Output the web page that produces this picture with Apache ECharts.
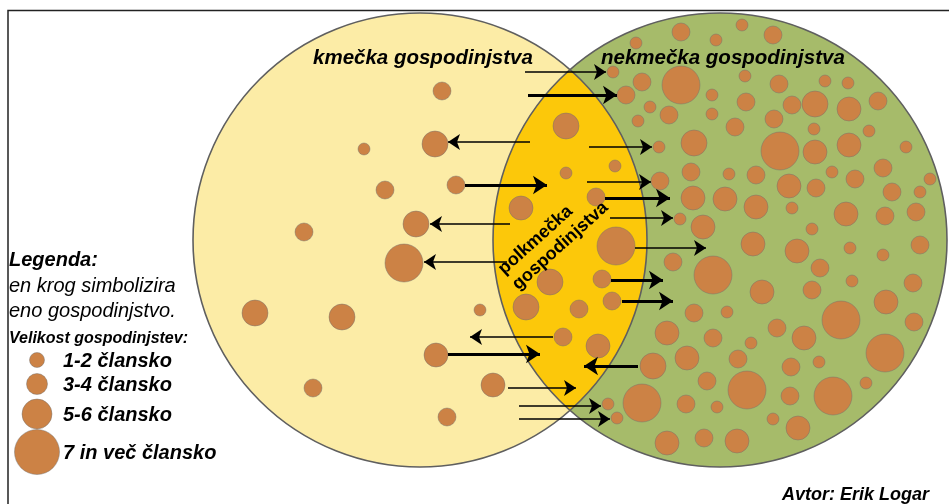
<!DOCTYPE html>
<html><head><meta charset="utf-8">
<script src="https://cdn.jsdelivr.net/npm/echarts@6/dist/echarts.min.js"></script>
<style>html,body{margin:0;padding:0;background:#fff}#c{width:949px;height:504px}</style>
</head><body><div id="c"></div>
<script>
// Venn circles: [cx, cy, radius]
const vennCircles = [[420, 240, 227], [720, 240, 227]];
const vennFills = ['#FCECA6', '#A6BB6A'];
const lensFill = '#FCC80A';

// households: [x, y, diameter]
const farmDots = [
  [442,91,18],[435,144,26],[364,149,12],[456,185,18],[385,190,18],[416,224,26],
  [304,232,18],[404,263,38],[255,313,26],[342,317,26],[480,310,12],[436,355,24],
  [313,388,18],[493,385,24],[447,417,18]
];
const mixedDots = [
  [566,126,26],[566,173,12],[615,166,12],[521,208,24],[596,197,18],[616,246,38],
  [550,282,26],[602,279,18],[612,301,18],[526,307,26],[579,309,18],[563,337,18],
  [598,346,24]
];
const nonFarmDots = [
  [742,25,12],[681,32,18],[716,40,12],[773,35,18],[636,43,12],[613,72,12],[642,82,18],
  [681,85,38],[745,76,12],[779,84,18],[825,81,12],[848,83,12],[626,95,18],[712,95,12],
  [650,107,12],[669,115,18],[638,121,12],[712,114,12],[746,102,18],[774,119,18],
  [792,105,18],[815,104,26],[849,109,24],[878,101,18],[735,127,18],[814,129,12],[869,131,12],
  [659,147,12],[694,143,26],[780,151,38],[691,172,18],[729,174,12],[756,175,18],[660,181,18],
  [789,186,24],[693,198,24],[725,199,24],[756,207,24],[792,208,12],[680,219,12],[703,227,24],
  [753,244,24],[797,251,24],[673,262,18],[812,229,12],
  [815,152,24],[849,145,24],[906,147,12],[832,172,12],[855,179,18],[883,168,18],[930,179,12],
  [816,188,18],[892,192,18],[920,192,12],[846,214,24],[885,216,18],[916,212,18],[850,248,12],
  [883,255,12],[920,245,18],[820,268,18],[812,290,18],[852,281,12],[913,283,18],[886,302,24],
  [841,320,38],[914,322,18],[804,338,24],[885,353,38],[819,362,12],
  [713,275,38],[762,292,24],[694,313,18],[727,312,12],[667,333,24],[713,338,18],[751,343,12],
  [777,328,18],[687,358,24],[738,359,18],[653,366,26],[791,367,18],[707,381,18],[747,390,38],
  [642,403,38],[608,404,12],[617,418,12],[686,404,18],[717,407,12],[790,396,18],[833,396,38],
  [866,383,12],[773,419,12],[798,428,24],[667,443,24],[704,438,18],[737,441,24]
];
const legendDots = [[37,360,15],[37,384,21],[37,414,30],[37,452,45]];
const legendLabels = ['1-2 člansko', '3-4 člansko', '5-6 člansko', '7 in več člansko'];

// arrows: [[tailX, tailY], [tipX, tipY]]
const arrowsThin = [
  [[525,72],[606,72]], [[530,142],[448,142]], [[510,224],[430,224]], [[507,262],[424,262]],
  [[589,147],[652,147]], [[587,182],[651,182]], [[610,218],[673,218]], [[635,248],[706,248]],
  [[553,337],[470,337]], [[508,388],[576,388]], [[519,406],[601,406]], [[519,419],[610,419]]
];
const arrowsThick = [
  [[528,95],[617,95]], [[465,185],[547,185]], [[605,198],[670,198]], [[611,280],[663,280]],
  [[622,301],[673,301]], [[448,354],[540,354]], [[638,366],[584,366]]
];

const FONT = '"Liberation Sans", Arial, sans-serif';
const dotStyle = { color: '#CC8245', borderColor: 'rgba(110,110,110,0.55)', borderWidth: 0.8, opacity: 1 };

const chart = echarts.init(document.getElementById('c'), null, { renderer: 'canvas' });

function circleFill(params, api) {
  const c = api.coord([api.value(0), api.value(1)]);
  const r = api.size([api.value(2), 0])[0];
  return { type: 'circle', shape: { cx: c[0], cy: c[1], r: r },
           style: { fill: vennFills[params.dataIndex], stroke: null } };
}
function circleLine(params, api) {
  const c = api.coord([api.value(0), api.value(1)]);
  const r = api.size([api.value(2), 0])[0];
  return { type: 'circle', shape: { cx: c[0], cy: c[1], r: r },
           style: { fill: null, stroke: '#5f5f5f', lineWidth: 1.6 } };
}
function lensItem(params, api) {
  const a = vennCircles[0], b = vennCircles[1];
  const mx = (a[0] + b[0]) / 2, my = (a[1] + b[1]) / 2;
  const half = Math.abs(b[0] - a[0]) / 2;
  const h = Math.sqrt(a[2] * a[2] - half * half);
  const p1 = api.coord([mx, my - h]);
  const p2 = api.coord([mx, my + h]);
  const r = api.size([a[2], 0])[0];
  const d = 'M' + p1[0] + ' ' + p1[1] +
            ' A' + r + ' ' + r + ' 0 0 0 ' + p2[0] + ' ' + p2[1] +
            ' A' + r + ' ' + r + ' 0 0 0 ' + p1[0] + ' ' + p1[1] + ' Z';
  return { type: 'path', shape: { pathData: d }, style: { fill: lensFill, stroke: null } };
}

function txt(x, y, text, font, extra) {
  const el = { type: 'text', x: x, y: y, z: 100,
    style: { text: text, font: font, fill: '#000', textAlign: 'left', textVerticalAlign: 'middle' } };
  if (extra) Object.assign(el, extra);
  return el;
}

const graphics = [
  { type: 'polyline', shape: { points: [[8, 504], [8, 10.5], [949, 10.5]] },
    style: { stroke: '#222', lineWidth: 1.5, fill: null }, z: 100 },
  txt(313, 58, 'kmečka gospodinjstva', 'italic bold 20.5px ' + FONT),
  txt(601, 58, 'nekmečka gospodinjstva', 'italic bold 20.5px ' + FONT),
  { type: 'text', x: 508, y: 279, rotation: 42 * Math.PI / 180, z: 100,
    style: { text: 'polkmečka\ngospodinjstva', font: 'bold 18px ' + FONT, fill: '#000',
             lineHeight: 21, textAlign: 'left', textVerticalAlign: 'middle' } },
  txt(9, 260, 'Legenda:', 'italic bold 20px ' + FONT),
  txt(9, 286, 'en krog simbolizira', 'italic 20px ' + FONT),
  txt(9, 311, 'eno gospodinjstvo.', 'italic 20px ' + FONT),
  txt(9, 339, 'Velikost gospodinjstev:', 'italic bold 16px ' + FONT),
  txt(782, 495, 'Avtor: Erik Logar', 'italic bold 18px ' + FONT)
].concat(legendLabels.map(function (t, i) {
  return txt(63, legendDots[i][1] + 1, t, 'italic bold 20px ' + FONT);
}));

const option = {
  animation: false,
  backgroundColor: '#fff',
  grid: { left: 0, right: 0, top: 0, bottom: 0, containLabel: false },
  xAxis: { type: 'value', min: 0, max: 949, show: false },
  yAxis: { type: 'value', min: 0, max: 504, inverse: true, show: false },
  graphic: graphics,
  series: [
    { type: 'custom', renderItem: circleFill, data: vennCircles, z: 1, silent: true, clip: false },
    { type: 'custom', renderItem: lensItem, data: [[0]], z: 2, silent: true, clip: false },
    { type: 'custom', renderItem: circleLine, data: vennCircles, z: 3, silent: true, clip: false },
    { type: 'scatter', data: farmDots.concat(mixedDots, nonFarmDots, legendDots), symbol: 'circle',
      symbolSize: function (v) { return v[2]; }, itemStyle: dotStyle, z: 4, silent: true, clip: false },
    { type: 'lines', coordinateSystem: 'cartesian2d', polyline: false, silent: true, z: 5,
      data: arrowsThin.map(function (c) { return { coords: c }; }),
      symbol: ['none', 'arrow'], symbolSize: 12,
      lineStyle: { color: '#000', width: 1.6, opacity: 1, curveness: 0 } },
    { type: 'lines', coordinateSystem: 'cartesian2d', polyline: false, silent: true, z: 5,
      data: arrowsThick.map(function (c) { return { coords: c }; }),
      symbol: ['none', 'arrow'], symbolSize: 14,
      lineStyle: { color: '#000', width: 3, opacity: 1, curveness: 0 } }
  ]
};
chart.setOption(option);
</script>
</body></html>
